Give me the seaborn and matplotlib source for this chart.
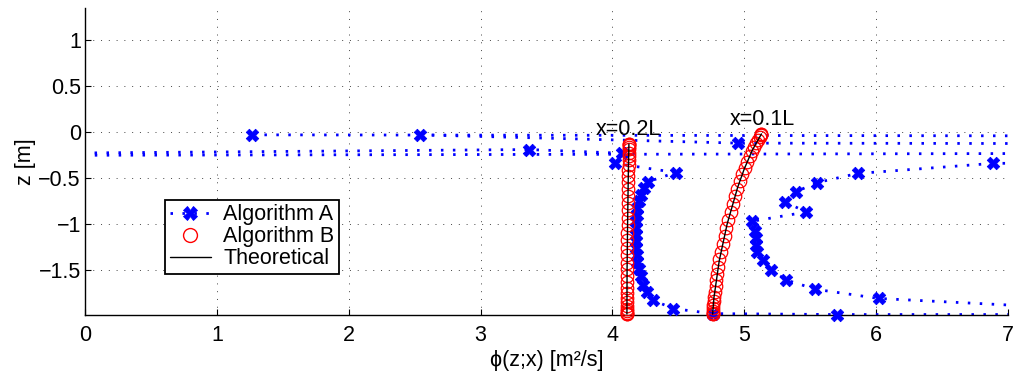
import matplotlib
matplotlib.use("Agg")
import matplotlib.pyplot as plt
import seaborn as sns
from matplotlib.lines import Line2D

# ---------------- data ----------------
# Algorithm A (x = 0.2L): phi [m^2/s], z [m]  (values far outside 0..7 are off-chart points)
phiA_02 = [1.27, 50.0, -3.0, 3.37, 4.07, 4.02, 4.48, 4.27, 4.24, 4.22, 4.20, 4.19, 4.19, 4.18,
           4.18, 4.18, 4.18, 4.18, 4.19, 4.19, 4.20, 4.22, 4.23, 4.26, 4.31, 4.46, 4.76, 5.70, 9.0]
zA_02 = [-0.03, -0.12, -0.26, -0.19, -0.23, -0.34, -0.44, -0.54, -0.61, -0.68, -0.75, -0.83, -0.90, -0.97,
         -1.04, -1.12, -1.19, -1.26, -1.34, -1.41, -1.49, -1.57, -1.66, -1.74, -1.83, -1.92, -1.975, -1.985, -1.985]

# Algorithm A (x = 0.1L)
phiA_01 = [2.54, 4.95, 60.0, 6.89, 5.86, 5.55, 5.39, 5.31, 5.47, 5.06, 5.08, 5.09, 5.09, 5.10,
           5.14, 5.20, 5.32, 5.54, 6.02, 8.5]
zA_01 = [-0.03, -0.12, -0.23, -0.34, -0.45, -0.55, -0.65, -0.76, -0.87, -0.97, -1.08, -1.15, -1.23, -1.30,
         -1.39, -1.50, -1.61, -1.71, -1.81, -1.99]

# Algorithm B (x = 0.2L)
zB_02 = [-0.130, -0.134, -0.145, -0.163, -0.189, -0.223, -0.261, -0.306, -0.358, -0.417, -0.478, -0.546,
         -0.617, -0.691, -0.768, -0.850, -0.931, -1.014, -1.096, -1.179, -1.260, -1.342, -1.419, -1.493,
         -1.564, -1.632, -1.693, -1.752, -1.804, -1.849, -1.888, -1.921, -1.947, -1.965, -1.976, -1.980]
phiB_02 = [4.125, 4.125, 4.125, 4.124, 4.124, 4.123, 4.123, 4.122, 4.122, 4.121, 4.120, 4.120,
           4.119, 4.118, 4.117, 4.116, 4.115, 4.115, 4.114, 4.113, 4.113, 4.112, 4.112, 4.111,
           4.111, 4.111, 4.110, 4.110, 4.110, 4.110, 4.110, 4.110, 4.110, 4.110, 4.110, 4.110]

# Algorithm B (x = 0.1L)
zB_01 = [-0.020, -0.024, -0.036, -0.055, -0.083, -0.117, -0.159, -0.206, -0.261, -0.323, -0.388, -0.460,
         -0.535, -0.614, -0.697, -0.782, -0.868, -0.956, -1.044, -1.132, -1.218, -1.303, -1.386, -1.465,
         -1.539, -1.612, -1.676, -1.738, -1.794, -1.841, -1.882, -1.917, -1.945, -1.964, -1.976, -1.980]
phiB_01 = [5.130, 5.128, 5.124, 5.116, 5.105, 5.092, 5.076, 5.058, 5.041, 5.023, 5.004, 4.985,
           4.966, 4.947, 4.931, 4.914, 4.896, 4.879, 4.863, 4.850, 4.837, 4.825, 4.812, 4.803,
           4.796, 4.789, 4.782, 4.776, 4.771, 4.767, 4.765, 4.763, 4.762, 4.761, 4.760, 4.760]

# Theoretical
zT_02 = [-0.13, -0.5, -1.0, -1.5, -1.98]
phiT_02 = [4.125, 4.120, 4.115, 4.111, 4.110]
zT_01 = [-0.02, -0.2, -0.4, -0.6, -0.8, -1.0, -1.2, -1.4, -1.6, -1.8, -1.98]
phiT_01 = [5.13, 5.06, 5.00, 4.95, 4.91, 4.87, 4.84, 4.81, 4.79, 4.77, 4.76]

labels = ["Algorithm A", "Algorithm B", "Theoretical"]
annot_text = ["x=0.2L", "x=0.1L"]
annot_x = [4.12, 5.14]
annot_z = [-0.03, 0.08]
xticks = [0, 1, 2, 3, 4, 5, 6, 7]
yticks = [-1.5, -1, -0.5, 0, 0.5, 1]
yticklabels = ["\u22121.5", "\u22121", "\u22120.5", "0", "0.5", "1"]

# ---------------- style ----------------
sns.set_theme(style="white")
plt.rcParams['font.family'] = ['Liberation Sans', 'DejaVu Sans']
plt.rcParams['text.color'] = 'black'
plt.rcParams['axes.labelcolor'] = 'black'
FS = 15.5

fig = plt.figure(figsize=(10.16, 3.81), dpi=100)
ax = fig.add_axes([85 / 1016, 1 - 315 / 381, (1008 - 85) / 1016, (315 - 8) / 381])

dot = (0, (0.9, 3.4))
blue = (0, 0, 1)

# Algorithm A lines
for phis, zs in [(phiA_02, zA_02), (phiA_01, zA_01)]:
    sns.lineplot(x=phis, y=zs, sort=False, estimator=None, color=blue, lw=2.0,
                 linestyle=dot, ax=ax, zorder=2)
    vis = [(p, z) for p, z in zip(phis, zs) if 0 <= p <= 7]
    sns.scatterplot(x=[v[0] for v in vis], y=[v[1] for v in vis], marker='X', s=80,
                    color=blue, edgecolor=blue, linewidth=0.6, ax=ax, zorder=3, clip_on=False)

# Algorithm B circles
for phis, zs in [(phiB_02, zB_02), (phiB_01, zB_01)]:
    sns.lineplot(x=phis, y=zs, sort=False, estimator=None, linestyle='none', marker='o',
                 markersize=9.0, markerfacecolor='none', markeredgecolor='red',
                 markeredgewidth=0.9, color='red', ax=ax, zorder=4, clip_on=False)

# Theoretical lines
for phis, zs in [(phiT_02, zT_02), (phiT_01, zT_01)]:
    sns.lineplot(x=phis, y=zs, sort=False, estimator=None, color='black', lw=1.0, ax=ax, zorder=5)

for t, x, z in zip(annot_text, annot_x, annot_z):
    ax.text(x, z, t, ha='center', va='baseline', fontsize=FS, color='black')

ax.set_xlim(0, 7)
ax.set_ylim(-1.99, 1.35)
ax.set_xticks(xticks)
ax.set_xticklabels([str(v) for v in xticks])
ax.set_yticks(yticks)
ax.set_yticklabels(yticklabels)
ax.tick_params(direction='in', length=4, width=0.8, colors='black', labelsize=FS,
               top=False, right=False, bottom=True, left=True)
ax.tick_params(axis='x', pad=7)
ax.tick_params(axis='y', pad=3)
for s in ['top', 'right']:
    ax.spines[s].set_visible(False)
for s in ['left', 'bottom']:
    ax.spines[s].set_color('black')
    ax.spines[s].set_linewidth(1.0)
ax.grid(True, color='#444444', linestyle=(0, (1, 7)), linewidth=0.7)
ax.set_axisbelow(True)

ax.set_xlabel("\u03d5(z;x) [m\u00b2/s]", fontsize=FS, labelpad=3)
ax.set_ylabel("z [m]", fontsize=FS, labelpad=2)

handles = [
    Line2D([], [], color=blue, lw=2.0, linestyle=dot, marker='X', markersize=10,
           markeredgecolor=blue, markeredgewidth=0.6),
    Line2D([], [], color='red', linestyle='none', marker='o', markersize=10,
           markerfacecolor='none', markeredgecolor='red', markeredgewidth=1.0),
    Line2D([], [], color='black', lw=1.0),
]
leg = ax.legend(handles, labels, loc='upper left', bbox_to_anchor=(0.087, 0.375),
                frameon=True, fancybox=False, edgecolor='black', framealpha=1,
                fontsize=FS, borderpad=0.2, labelspacing=0.05, handlelength=1.9,
                handletextpad=0.6, borderaxespad=0)
leg.get_frame().set_linewidth(1.3)
for t in leg.get_texts():
    t.set_color('black')

fig.savefig("out.png", dpi=100)
